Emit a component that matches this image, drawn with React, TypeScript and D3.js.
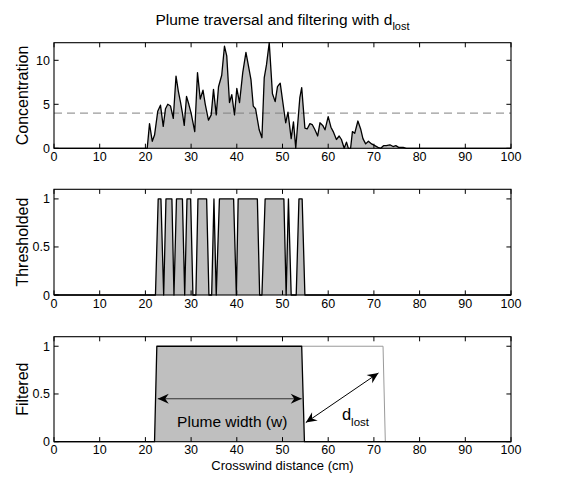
import React from 'react';
import * as d3 from 'd3';

// Concentration trace: [crosswind distance (cm), concentration]
const concentration: [number, number][] = [
  [0, 0], [20.4, 0], [20.9, 2.8], [21.5, 0.8], [22.0, 1.5], [22.7, 4.2], [23.3, 4.9], [23.9, 2.5],
  [24.4, 4.5], [24.9, 5.0], [25.5, 4.8], [26.1, 3.4], [26.7, 8.2], [27.2, 6.5], [27.7, 5.2], [28.1, 4.0],
  [28.5, 2.6], [29.0, 5.9], [29.5, 5.0], [30.0, 4.0], [30.8, 1.9], [31.4, 8.6], [32.0, 5.6], [32.6, 6.6],
  [33.1, 5.0], [33.8, 3.2], [34.4, 3.8], [34.9, 6.7], [35.5, 3.8], [36.0, 7.0], [36.7, 8.3], [37.3, 11.6],
  [37.8, 10.5], [38.4, 5.2], [38.9, 6.1], [39.5, 3.8], [40.0, 6.8], [40.6, 5.2], [41.3, 8.6], [42.0, 10.9],
  [42.5, 9.5], [43.1, 7.8], [43.6, 4.8], [44.1, 4.5], [44.9, 2.1], [45.5, 1.2], [46.0, 8.0], [46.5, 9.5],
  [47.1, 12.0], [47.8, 6.2], [48.4, 5.3], [48.9, 7.0], [49.5, 7.4], [50.0, 5.5], [50.7, 2.9], [51.2, 4.1],
  [51.9, 1.1], [52.4, 3.0], [52.9, 0], [53.8, 5.8], [54.2, 6.9], [54.9, 2.3], [55.4, 2.2], [56.0, 2.8],
  [56.5, 2.7], [57.1, 2.1], [57.7, 1.4], [58.2, 2.9], [58.8, 2.6], [59.3, 2.1], [60.0, 3.6], [60.6, 2.4],
  [61.1, 1.9], [61.8, 1.0], [62.4, 1.4], [62.9, 1.0], [63.5, 0], [64.0, 0.7], [64.4, 0], [64.9, 0],
  [65.3, 1.9], [65.8, 1.7], [66.5, 3.1], [67.1, 2.2], [67.6, 1.1], [68.2, 0.5], [68.8, 0.8], [69.5, 0.5],
  [70.2, 0.3], [70.9, 0.1], [71.5, 0], [72.1, 0.3], [72.7, 0.3], [73.5, 0.4], [74.2, 0.2], [74.8, 0.3],
  [75.4, 0.1], [76.4, 0.1], [77.1, 0], [100, 0],
];
const threshold = 4;

// Thresholded trace
const thresholded: [number, number][] = [
  [0, 0], [22.2, 0], [22.8, 1], [23.4, 1], [24.0, 0], [24.5, 1], [25.8, 1], [26.25, 0],
  [26.8, 1], [28.1, 1], [28.6, 0], [29.1, 1], [29.9, 1], [30.4, 0], [31.05, 0], [31.5, 1],
  [33.4, 1], [33.9, 0], [34.5, 0], [35.0, 1], [35.5, 0], [36.2, 1], [39.3, 1], [39.9, 0],
  [40.3, 1], [44.5, 1], [45.0, 0], [45.5, 0], [46.2, 1], [50.3, 1], [50.8, 0], [51.3, 1],
  [51.9, 0], [53.0, 0], [53.6, 1], [54.3, 1], [54.9, 0], [100, 0],
];

// Filtered trace (plume) and the extension lost with d_lost
const filtered: [number, number][] = [
  [0, 0], [22.0, 0], [22.5, 1], [54.2, 1], [54.8, 0], [100, 0],
];
const lostExtension: [number, number][] = [
  [54.2, 1], [72.0, 1], [72.5, 0],
];

// Annotations
const widthArrow: [number, number][] = [[22.7, 0.45], [54.2, 0.45]];
const lostArrow: [number, number][] = [[55.1, 0.2], [71.0, 0.72]];

const xTicks = [0, 10, 20, 30, 40, 50, 60, 70, 80, 90, 100];
const concTicks = [0, 5, 10];
const unitTicks = [0, 0.5, 1];

const W = 576;
const H = 480;
const L = 54;
const R = 511;
const FONT = "'Liberation Sans', Arial, Helvetica, sans-serif";

const x = d3.scaleLinear().domain([0, 100]).range([L, R]);

function Frame({ y, ticks, top, bottom, label, fmt }: any) {
  const tl = 4.6;
  return (
    <g>
      {xTicks.map((t) => (
        <g key={'x' + t}>
          <line x1={x(t)} x2={x(t)} y1={bottom} y2={bottom - tl} stroke="#000" strokeWidth={1} />
          <line x1={x(t)} x2={x(t)} y1={top} y2={top + tl} stroke="#000" strokeWidth={1} />
          <text x={x(t)} y={bottom + 12.5} textAnchor="middle" fontSize={12.5} fontFamily={FONT}>{t}</text>
        </g>
      ))}
      {ticks.map((t: number) => (
        <g key={'y' + t}>
          <line x1={L} x2={L + tl} y1={y(t)} y2={y(t)} stroke="#000" strokeWidth={1} />
          <line x1={R} x2={R - tl} y1={y(t)} y2={y(t)} stroke="#000" strokeWidth={1} />
          <text x={L - 4} y={y(t) + 4.5} textAnchor="end" fontSize={12.5} fontFamily={FONT}>{fmt(t)}</text>
        </g>
      ))}
      <rect x={L} y={top} width={R - L} height={bottom - top} fill="none" stroke="#000" strokeWidth={1.1} />
      <text transform={`translate(22,${(top + bottom) / 2}) rotate(-90)`} textAnchor="middle" dominantBaseline="central" fontSize={16} fontFamily={FONT}>{label}</text>
    </g>
  );
}

export default function App() {
  const p1 = { top: 42.7, bottom: 148.3 };
  const p2 = { top: 189.3, bottom: 295 };
  const p3 = { top: 336.7, bottom: 441.7 };
  const y1 = d3.scaleLinear().domain([0, 12]).range([p1.bottom, p1.top]);
  const y2 = d3.scaleLinear().domain([0, 1.1]).range([p2.bottom, p2.top]);
  const y3 = d3.scaleLinear().domain([0, 1.1]).range([p3.bottom, p3.top]);

  const mk = (ys: d3.ScaleLinear<number, number>) => ({
    area: d3.area<[number, number]>().x((d) => x(d[0])).y0(ys(0)).y1((d) => ys(d[1])),
    line: d3.line<[number, number]>().x((d) => x(d[0])).y((d) => ys(d[1])),
  });
  const g1 = mk(y1);
  const g2 = mk(y2);
  const g3 = mk(y3);
  const fmt = (t: number) => String(t);

  return (
    <svg width={W} height={H} style={{ position: 'absolute', left: 0, top: 0, background: '#fff' }}>
      <defs>
        <marker id="ah" viewBox="-12 -6 13 12" refX={0} refY={0} markerWidth={13} markerHeight={12} markerUnits="userSpaceOnUse" orient="auto-start-reverse">
          <path d="M0,0 L-11,-5 L-7.5,0 L-11,5 Z" fill="#000" />
        </marker>
      </defs>
      <rect width={W} height={H} fill="#fff" />
      <text x={(L + R) / 2} y={25} textAnchor="middle" fontSize={15.5} fontFamily={FONT}>
        Plume traversal and filtering with d<tspan fontSize={11} dy={5}>lost</tspan>
      </text>

      {/* Panel 1 */}
      <path d={g1.area(concentration) || ''} fill="#bfbfbf" />
      <line x1={L} x2={R} y1={y1(threshold)} y2={y1(threshold)} stroke="#808080" strokeWidth={1} strokeDasharray="8,5" />
      <path d={g1.line(concentration) || ''} fill="none" stroke="#000" strokeWidth={1.3} strokeLinejoin="round" />
      <Frame y={y1} ticks={concTicks} top={p1.top} bottom={p1.bottom} label="Concentration" fmt={fmt} />

      {/* Panel 2 */}
      <path d={g2.area(thresholded) || ''} fill="#bfbfbf" />
      <path d={g2.line(thresholded) || ''} fill="none" stroke="#000" strokeWidth={1.3} strokeLinejoin="round" />
      <Frame y={y2} ticks={unitTicks} top={p2.top} bottom={p2.bottom} label="Thresholded" fmt={fmt} />

      {/* Panel 3 */}
      <path d={g3.area(filtered) || ''} fill="#bfbfbf" />
      <path d={g3.line(lostExtension) || ''} fill="none" stroke="#9a9a9a" strokeWidth={1} />
      <path d={g3.line(filtered) || ''} fill="none" stroke="#000" strokeWidth={1.3} strokeLinejoin="round" />
      <Frame y={y3} ticks={unitTicks} top={p3.top} bottom={p3.bottom} label="Filtered" fmt={fmt} />

      <path d={g3.line(widthArrow) || ''} stroke="#333" strokeWidth={1.2} markerStart="url(#ah)" markerEnd="url(#ah)" fill="none" />
      <path d={g3.line(lostArrow) || ''} stroke="#000" strokeWidth={1} markerStart="url(#ah)" markerEnd="url(#ah)" fill="none" />
      <text x={x(39.0)} y={y3(0.15)} textAnchor="middle" fontSize={15.5} fontFamily={FONT}>Plume width (w)</text>
      <text x={x(63.0)} y={y3(0.225)} fontSize={16.5} fontFamily={FONT}>
        d<tspan fontSize={11.5} dy={6}>lost</tspan>
      </text>

      <text x={(L + R) / 2} y={469.5} textAnchor="middle" fontSize={13} fontFamily={FONT}>Crosswind distance (cm)</text>
    </svg>
  );
}
